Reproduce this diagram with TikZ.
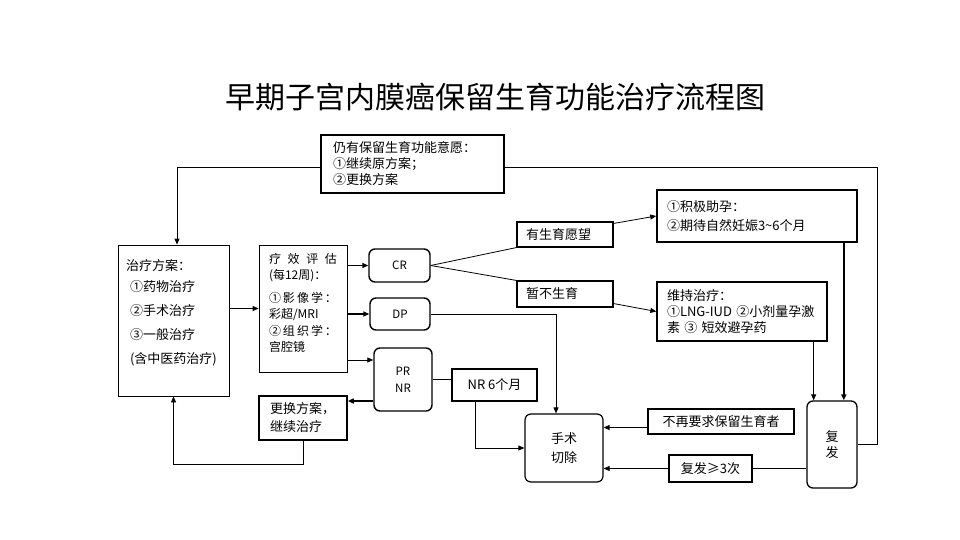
\documentclass[tikz,border=0pt]{standalone}
\usepackage{fontspec}
\setmainfont{Noto Sans CJK SC}
\usetikzlibrary{positioning,arrows.meta}

\begin{document}
\begin{tikzpicture}[
  x=1pt, y=-1pt,
  box/.style={draw, line width=0.8pt, inner xsep=9pt, inner ysep=0pt, align=left, font=\fontsize{13}{16}\selectfont},
  tbox/.style={box, line width=1.6pt},
  rbox/.style={tbox, line width=1.4pt, rounded corners=6pt, align=center},
  line/.style={line width=0.8pt},
  arr/.style={line, -{Triangle[length=6pt,width=5pt]}},
  tarr/.style={arr, line width=1.8pt}
]
\fill[white] (0,0) rectangle (960,540);
\node (title) at (495,97) {\fontsize{30}{36}\selectfont 早期子宫内膜癌保留生育功能治疗流程图};

\node[tbox, text width=159pt, inner xsep=12pt, minimum height=58pt] (wish) at (412.5,164) {仍有保留生育功能意愿：\\①继续原方案；\\②更换方案};
\node[box, text width=95pt, inner xsep=8pt, minimum height=151pt, font=\fontsize{13}{24}\selectfont] (treat) at (173.5,320.5) {治疗方案：\\[-3pt]\hspace*{4pt}①药物治疗\\\hspace*{4pt}②手术治疗\\\hspace*{4pt}③一般治疗\\\hspace*{4pt}(含中医药治疗)\\[-5pt]\mbox{}};
\node[box, text width=68pt, inner xsep=10pt, minimum height=127pt, font=\fontsize{12}{16.5}\selectfont] (eval) at (303,308.5) {疗\hfill 效\hfill 评\hfill 估\\(每12周)：\\[6pt]①\hfill 影\hfill 像\hfill 学\hfill ：\\彩超/MRI\\②\hfill 组\hfill 织\hfill 学\hfill ：\\宫腔镜\\[-4pt]\mbox{}};
\node[rbox, minimum width=61pt, minimum height=33pt, font=\fontsize{11.5}{17}\selectfont] (cr) at (399.5,265.5) {CR};
\node[rbox, minimum width=60pt, minimum height=32pt, font=\fontsize{11.5}{17}\selectfont] (dp) at (400,314) {DP};
\node[rbox, minimum width=58pt, minimum height=63pt, font=\fontsize{11.5}{17}\selectfont] (prnr) at (403,379.5) {PR\\NR};
\node[tbox, text width=66pt, inner xsep=11pt, minimum height=44pt, font=\fontsize{13}{18}\selectfont] (change) at (303,418) {更换方案，\\继续治疗};

\node[box, line width=1.1pt, text width=78pt, minimum height=25pt] (yes) at (565,234.5) {有生育愿望};
\node[box, line width=1.1pt, text width=78pt, minimum height=26pt] (no) at (565,294) {暂不生育};
\node[tbox, text width=180pt, inner xsep=10pt, minimum height=52pt, font=\fontsize{13}{19}\selectfont] (preg) at (757,216) {①积极助孕：\\②期待自然妊娠3\textasciitilde6个月};
\node[tbox, line width=1.3pt, text width=150pt, inner xsep=10pt, minimum height=59pt] (maint) at (742,311.5) {维持治疗：\\\mbox{①LNG-IUD ②小剂量孕激}\\素 ③ 短效避孕药};

\node[rbox, line width=1.2pt, minimum width=78pt, minimum height=68pt, font=\fontsize{13}{19}\selectfont] (surg) at (564,448) {手术\\切除};
\node[tbox, align=center, minimum width=85pt, minimum height=32pt] (nr6) at (494.5,385) {NR 6个月};
\node[box, line width=1.2pt, align=center, minimum width=146pt, minimum height=25pt] (stop) at (721,421.5) {不再要求保留生育者};
\node[tbox, align=center, minimum width=83pt, minimum height=27pt] (rel3) at (710.5,468.5) {复发≥3次};
\node[rbox, line width=1.3pt, minimum width=50pt, minimum height=87pt, font=\fontsize{13}{16}\selectfont] (relapse) at (832,444.5) {复\\发};

\coordinate (rcorner) at (877,167);
\coordinate (prin) at ([yshift=19.5pt]prnr.west);
\coordinate (prout) at ([yshift=-21.5pt]prnr.west);
\coordinate (stin) at ([yshift=-6pt]stop.west);
\coordinate (mout) at ([xshift=-14pt]maint.south east);
\coordinate (pout) at ([xshift=-14pt]preg.south east);

\draw[arr] ([yshift=-3pt]wish.west) -| ([xshift=3.5pt]treat.north);
\draw[line] (relapse.east) -| (rcorner) -- ([yshift=-3pt]wish.east);
\draw[arr] (eval.west -| treat.east) -- (eval.west);
\draw[tarr] (cr.west -| eval.east) -- (cr.west);
\draw[tarr] (dp.west -| eval.east) -- (dp.west);
\draw[arr] (eval.east |- prin) -- (prin);
\draw[tarr] (prout) -- (prout -| change.east);
\draw[arr] (change.south) -- ++(0,24) -| (treat.south);

\draw[line] (cr.east) -- (yes.south west);
\draw[line] (cr.east) -- (no.north west);
\draw[arr] ([yshift=-2pt]yes.north east) -- (preg.west);
\draw[arr] ([yshift=4pt]no.south east) -- (maint.west);
\draw[arr] (dp.east) -| ([xshift=-8pt]surg.north);
\draw[line] (prnr.east) -- (prnr.east -| nr6.west);
\draw[arr] ([xshift=-19.5pt]nr6.south) |- (surg.west);
\draw[tarr] (stin) -- (stin -| surg.east);
\draw[line] (relapse.west |- rel3.east) -- (rel3.east);
\draw[arr] (rel3.west) -- (rel3.west -| surg.east);
\draw[arr] (mout) -- (mout |- relapse.north);
\draw[tarr] (pout) -- (pout |- relapse.north);
\end{tikzpicture}
\end{document}
